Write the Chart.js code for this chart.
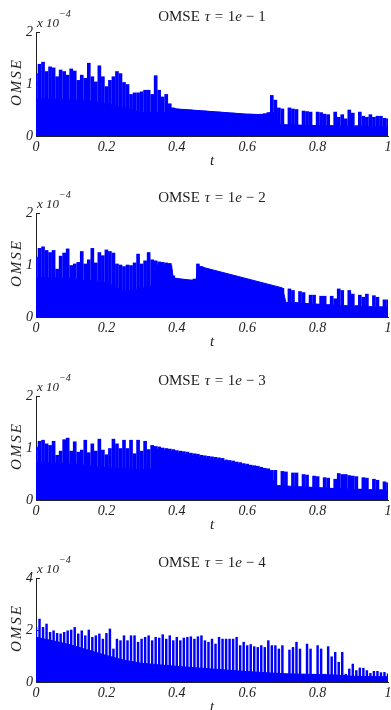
<!DOCTYPE html>
<html>
<head>
<meta charset="utf-8">
<script src="https://cdn.jsdelivr.net/npm/chart.js@4/dist/chart.umd.min.js"></script>
<style>
  body { margin: 0; background: #fff; width: 391px; height: 710px; overflow: hidden; position: relative; }
  canvas { position: absolute; left: 0; }
</style>
</head>
<body>
<canvas id="p1" width="391" height="182" style="top:0px"></canvas>
<canvas id="p2" width="391" height="182" style="top:181px"></canvas>
<canvas id="p3" width="391" height="182" style="top:364px"></canvas>
<canvas id="p4" width="391" height="182" style="top:546px"></canvas>
<script>
// values are in units of 1e-4
const tauExp = ['1', '2', '3', '4'];
const yMax = [2, 2, 2, 4];
const yStep = [1, 1, 1, 2];

// peak of each 0.01-wide bin in t (101 bins, t = 0 ... 1)
const spikes1 = [
  1.20, 1.38, 1.42, 1.24, 1.33, 1.31, 1.14, 1.27, 1.24, 1.17,
  1.29, 1.25, 1.07, 1.17, 1.11, 1.40, 1.14, 1.04, 1.35, 1.14,
  0.95, 1.07, 1.14, 1.24, 1.20, 1.03, 0.99, 0.80, 0.83, 0.83,
  0.85, 0.88, 0.88, 0.80, 1.16, 0.88, 0.75, 0.80, 0.62, 0.54,
  0.52, 0.51, 0.51, 0.50, 0.50, 0.49, 0.49, 0.48, 0.48, 0.47,
  0.47, 0.46, 0.46, 0.45, 0.45, 0.44, 0.44, 0.43, 0.43, 0.42,
  0.42, 0.42, 0.41, 0.41, 0.42, 0.43, 0.45, 0.78, 0.69, 0.54,
  0.52, 0.20, 0.54, 0.52, 0.51, 0.20, 0.48, 0.47, 0.46, 0.20,
  0.46, 0.45, 0.42, 0.41, 0.20, 0.46, 0.36, 0.41, 0.33, 0.50,
  0.44, 0.20, 0.46, 0.38, 0.36, 0.41, 0.36, 0.38, 0.38, 0.34, 0.33
];
const spikes2 = [
  1.15, 1.32, 1.35, 1.28, 1.24, 1.28, 0.92, 1.17, 1.23, 1.31,
  0.99, 1.02, 1.05, 1.26, 1.02, 1.10, 1.32, 1.04, 1.24, 1.18,
  1.29, 1.26, 1.23, 1.02, 1.00, 0.97, 1.00, 0.99, 1.04, 1.21,
  1.02, 1.08, 1.24, 1.10, 1.08, 1.06, 1.05, 1.04, 1.03, 0.79,
  0.74, 0.72, 0.71, 0.71, 0.71, 0.73, 1.02, 0.97, 0.92, 0.89,
  0.87, 0.86, 0.84, 0.84, 0.82, 0.80, 0.79, 0.77, 0.75, 0.73,
  0.72, 0.70, 0.67, 0.65, 0.63, 0.62, 0.60, 0.58, 0.56, 0.54,
  0.55, 0.28, 0.54, 0.51, 0.28, 0.49, 0.47, 0.26, 0.42, 0.42,
  0.25, 0.40, 0.40, 0.24, 0.40, 0.35, 0.54, 0.51, 0.22, 0.51,
  0.44, 0.22, 0.42, 0.38, 0.44, 0.20, 0.41, 0.38, 0.20, 0.33, 0.33
];
const spikes3 = [
  1.02, 1.13, 1.15, 1.08, 1.05, 1.13, 0.86, 0.94, 1.16, 1.19,
  0.94, 1.12, 0.92, 0.96, 1.15, 0.91, 1.08, 0.94, 1.17, 0.96,
  0.87, 0.99, 1.17, 1.08, 0.99, 1.15, 0.99, 1.15, 0.89, 1.15,
  0.94, 1.13, 0.97, 1.05, 1.03, 1.02, 1.00, 0.99, 0.98, 0.97,
  0.95, 0.94, 0.93, 0.92, 0.90, 0.89, 0.88, 0.86, 0.85, 0.84,
  0.83, 0.82, 0.81, 0.80, 0.77, 0.76, 0.75, 0.73, 0.72, 0.70,
  0.69, 0.67, 0.66, 0.65, 0.63, 0.61, 0.60, 0.57, 0.57, 0.25,
  0.55, 0.54, 0.25, 0.52, 0.52, 0.24, 0.49, 0.48, 0.24, 0.46,
  0.45, 0.23, 0.43, 0.42, 0.22, 0.40, 0.51, 0.49, 0.49, 0.47,
  0.46, 0.45, 0.21, 0.43, 0.42, 0.20, 0.40, 0.38, 0.20, 0.35, 0.33
];
const spikes4 = [
  2.10, 2.42, 2.10, 2.23, 1.91, 1.97, 1.87, 1.85, 1.91, 1.97,
  2.00, 2.10, 1.85, 1.97, 1.78, 2.00, 1.72, 1.78, 1.85, 1.65,
  1.87, 2.04, 1.27, 1.65, 1.59, 1.78, 1.59, 1.78, 1.78, 1.53,
  1.65, 1.72, 1.78, 1.59, 1.72, 1.69, 1.82, 1.65, 1.78, 1.59,
  1.72, 1.59, 1.69, 1.72, 1.74, 1.65, 1.74, 1.78, 1.59, 1.53,
  1.65, 1.46, 1.72, 1.65, 1.65, 1.65, 1.65, 1.72, 1.40, 1.53,
  1.40, 1.44, 1.36, 1.33, 1.40, 1.33, 1.59, 1.40, 1.40, 1.27,
  1.40, 0.30, 1.23, 1.33, 1.53, 1.27, 0.30, 1.46, 1.27, 0.30,
  1.40, 1.27, 0.30, 1.36, 0.97, 1.14, 0.76, 1.14, 0.30, 0.50,
  0.69, 0.44, 0.54, 0.53, 0.44, 0.33, 0.41, 0.41, 0.36, 0.37, 0.31
];

// solid lower envelope (breakpoints)
const baseT1 = [0, 0.1, 0.15, 0.2, 0.25, 0.3, 0.37, 0.38, 0.4, 0.5, 0.6, 0.65, 0.665, 0.68, 0.69, 0.8, 1];
const baseV1 = [0.72, 0.70, 0.68, 0.62, 0.55, 0.45, 0.45, 0.54, 0.52, 0.47, 0.42, 0.41, 0.45, 0.45, 0.22, 0.20, 0.17];
const baseT2 = [0, 0.1, 0.2, 0.25, 0.3, 0.33, 0.34, 0.385, 0.39, 0.45, 0.455, 0.46, 0.7, 0.71, 0.85, 1];
const baseV2 = [0.76, 0.74, 0.66, 0.50, 0.55, 0.60, 1.00, 1.00, 0.75, 0.70, 0.72, 0.98, 0.56, 0.28, 0.22, 0.18];
const baseT3 = [0, 0.1, 0.2, 0.3, 0.33, 0.34, 0.66, 0.68, 0.85, 1];
const baseV3 = [0.72, 0.70, 0.62, 0.58, 0.60, 0.98, 0.58, 0.28, 0.22, 0.18];
const baseT4 = [0, 0.05, 0.1, 0.15, 0.2, 0.25, 0.3, 0.4, 0.5, 0.6, 0.7, 0.85, 0.9, 1];
const baseV4 = [1.72, 1.58, 1.42, 1.22, 1.02, 0.84, 0.72, 0.60, 0.50, 0.40, 0.32, 0.27, 0.22, 0.20];

// bin centres on the t axis
const tGrid = [];
for (let i = 0; i <= 100; i++) tGrid.push(i / 100);

const BLUE = '#0000ff';
const INK = '#222';
const SERIF = '"Liberation Serif", "DejaVu Serif", serif';

const panelText = {
  id: 'panelText',
  beforeDatasetsDraw(chart) {
    // small inward ticks on the y axis (drawn under the data like matlab)
    const { ctx, chartArea: a, scales } = chart;
    ctx.save();
    ctx.strokeStyle = INK;
    ctx.lineWidth = 1;
    scales.y.ticks.forEach(t => {
      const y = Math.round(scales.y.getPixelForValue(t.value)) + 0.5;
      ctx.beginPath();
      ctx.moveTo(a.left, y);
      ctx.lineTo(a.left + 4, y);
      ctx.stroke();
    });
    ctx.restore();
  },
  afterDraw(chart, args, opts) {
    const { ctx, chartArea: a } = chart;
    const up = '15px ' + SERIF;
    const it = 'italic 15px ' + SERIF;
    ctx.save();
    ctx.fillStyle = INK;
    ctx.textBaseline = 'alphabetic';

    // title: OMSE tau = 1e - n
    const segs = [
      ['OMSE', up, 0], ['\u03C4', it, 5], ['=', up, 4.5], ['1', up, 4.5],
      ['e', it, 0], ['\u2212', up, 4], [opts.tau, up, 4]
    ];
    let total = 0;
    segs.forEach(s => { ctx.font = s[1]; total += s[2] + ctx.measureText(s[0]).width; });
    let x = (a.left + a.right) / 2 - total / 2;
    segs.forEach(s => {
      ctx.font = s[1];
      x += s[2];
      ctx.fillText(s[0], x, a.top - 11);
      x += ctx.measureText(s[0]).width;
    });

    // exponent label
    ctx.font = 'italic 13px ' + SERIF;
    ctx.fillText('x 10', a.left + 1, a.top - 5);
    const w = ctx.measureText('x 10').width;
    ctx.font = 'italic 10px ' + SERIF;
    ctx.fillText('\u22124', a.left + 1 + w, a.top - 15);

    // y label
    ctx.translate(17, (a.top + a.bottom) / 2 - 1);
    ctx.rotate(-Math.PI / 2);
    ctx.font = it;
    ctx.letterSpacing = '2px';
    ctx.textAlign = 'center';
    ctx.textBaseline = 'middle';
    ctx.fillText('OMSE', 1, 0);
    ctx.restore();
  }
};

function makePanel(id, spikes, baseT, baseV, k, barW) {
  return new Chart(document.getElementById(id), {
    type: 'bar',
    data: {
      datasets: [
        {
          type: 'line',
          data: baseT.map((t, i) => ({ x: t, y: baseV[i] })),
          fill: 'origin',
          backgroundColor: BLUE,
          borderColor: BLUE,
          borderWidth: 1,
          pointRadius: 0,
          tension: 0
        },
        {
          type: 'bar',
          data: tGrid.map((t, i) => ({ x: t, y: spikes[i] })),
          backgroundColor: BLUE,
          borderWidth: 0,
          barThickness: barW
        }
      ]
    },
    options: {
      animation: false,
      responsive: false,
      devicePixelRatio: 1,
      layout: { padding: { top: 32, right: 3, left: 0, bottom: 0 } },
      plugins: {
        legend: { display: false },
        tooltip: { enabled: false },
        panelText: { tau: tauExp[k] }
      },
      scales: {
        x: {
          type: 'linear',
          min: 0,
          max: 1,
          offset: false,
          grid: { display: false, drawTicks: false, offset: false },
          border: { display: true, color: INK, width: 1 },
          ticks: {
            stepSize: 0.2,
            padding: 3,
            maxRotation: 0,
            autoSkip: false,
            color: INK,
            font: { family: SERIF, size: 14, style: 'italic' },
            callback: v => String(Number(v.toFixed(1)))
          },
          title: {
            display: true,
            text: 't',
            color: INK,
            font: { family: SERIF, size: 15, style: 'italic' },
            padding: { top: 0, bottom: 12 }
          },
          // let the last label hang over the edge like the original
          afterFit: s => { s.height = 46; s.paddingLeft = 0; s.paddingRight = 0; }
        },
        y: {
          min: 0,
          max: yMax[k],
          grid: { display: false, drawTicks: false },
          border: { display: true, color: INK, width: 1 },
          ticks: {
            stepSize: yStep[k],
            padding: 3,
            color: INK,
            font: { family: SERIF, size: 14, style: 'italic' }
          },
          afterFit: s => { s.width = 36; }
        }
      }
    },
    plugins: [panelText]
  });
}

makePanel('p1', spikes1, baseT1, baseV1, 0, 3.0);
makePanel('p2', spikes2, baseT2, baseV2, 1, 3.0);
makePanel('p3', spikes3, baseT3, baseV3, 2, 3.0);
makePanel('p4', spikes4, baseT4, baseV4, 3, 1.8);
</script>
</body>
</html>
